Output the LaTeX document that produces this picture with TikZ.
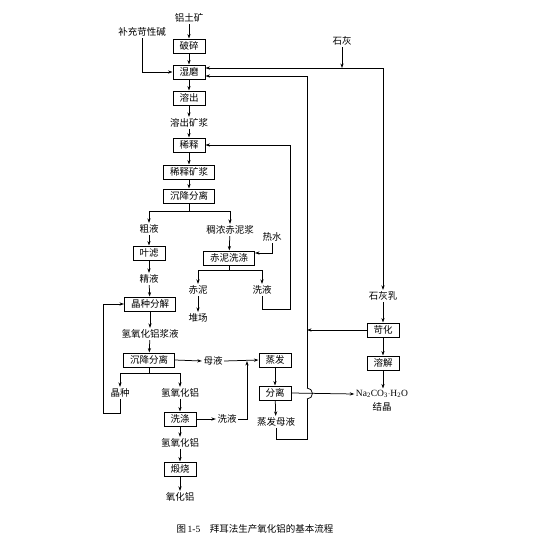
\documentclass[tikz,border=0pt]{standalone}
\usepackage{fontspec}
\setmainfont{Liberation Serif}
\newfontfamily\cjk{Noto Sans CJK SC}
\usetikzlibrary{arrows.meta}
\begin{document}
\begin{tikzpicture}[x=1pt,y=-1pt,
  every node/.style={font=\cjk\fontsize{9.5}{11}\selectfont, inner sep=1.5pt},
  box/.style={draw, line width=1pt, inner xsep=6.5pt, inner ysep=2pt, minimum height=14pt},
  lbl/.style={},
  link/.style={line width=0.75pt},
  arr/.style={link, -{Stealth[length=4.5pt,width=3.2pt]}}]
\useasboundingbox (0,0) rectangle (536,547);
% left main chain
\node[lbl] (ore) at (189,18) {铝土矿};
\node[lbl] (alkali) at (142,32) {补充苛性碱};
\node[box] (posui) at (189,46) {破碎};
\node[box] (shimo) at (189,72) {湿磨};
\node[box] (rongchu) at (189,98) {溶出};
\node[lbl] (rcks) at (189,123) {溶出矿浆};
\node[box] (xishi) at (189,145) {稀释};
\node[box] (xsks) at (189,172) {稀释矿浆};
\node[box] (cjfl1) at (189,196) {沉降分离};
\node[lbl] (cuye) at (149,229) {粗液};
\node[lbl] (chounong) at (230,230) {稠浓赤泥浆};
\node[box] (yelv) at (149,253) {叶滤};
\node[lbl] (reshui) at (272,237) {热水};
\node[box] (chixi) at (229,258) {赤泥洗涤};
\node[lbl] (jingye) at (149,279) {精液};
\node[lbl] (chini) at (198,290) {赤泥};
\node[lbl] (xiye1) at (262,290) {洗液};
\node[lbl] (duichang) at (198,318) {堆场};
\node[box] (jzfj) at (150,304) {晶种分解};
\node[lbl] (qyhljy) at (150,334) {氢氧化铝浆液};
\node[box] (cjfl2) at (149,360) {沉降分离};
\node[lbl] (muye) at (213,361) {母液};
\node[box] (zhengfa) at (275,360) {蒸发};
\node[box] (fenli) at (275,393) {分离};
\node[lbl] (jingzhong) at (120,393) {晶种};
\node[lbl] (qyhl1) at (180,393) {氢氧化铝};
\node[box] (xidi) at (180,419) {洗涤};
\node[lbl] (xiye2) at (227,419) {洗液};
\node[lbl] (zfmy) at (276,422) {蒸发母液};
\node[lbl] (qyhl2) at (180,443) {氢氧化铝};
\node[box] (duanshao) at (180,469) {煅烧};
\node[lbl] (yhl) at (180,497) {氧化铝};
% right chain
\node[lbl] (shihui) at (342,41) {石灰};
\node[lbl] (shhr) at (383,296) {石灰乳};
\node[box] (kehua) at (383,330) {苛化};
\node[box] (rongjie) at (383,363) {溶解};
\node[font=\rmfamily\fontsize{9.5}{11}\selectfont] (na) at (382,394) {Na\textsubscript{2}CO\textsubscript{3}$\cdot$H\textsubscript{2}O};
\node[lbl] (jiejing) at (382,407) {结晶};
\node[font=\cjk\fontsize{9.5}{11}\selectfont] (caption) at (255,529) {图\,{\rmfamily 1-5}\quad 拜耳法生产氧化铝的基本流程};
% coordinates
\coordinate (limeJ) at (383,68);
\coordinate (shimoA) at ([yshift=4pt]shimo.east);
\coordinate (shimoB) at ([yshift=-4pt]shimo.east);
\coordinate (retX) at (307,76);
\coordinate (retBot) at (307,439);
\coordinate (hopLo) at (307,399);
\coordinate (hopHi) at (307,388);
\coordinate (kehuaJ) at (307,330);
\coordinate (split1) at (189,211);
\coordinate (split1L) at (149,211);
\coordinate (split1R) at (230,211);
\coordinate (split2) at (229,270);
\coordinate (split2L) at (198,270);
\coordinate (split2R) at (262,270);
\coordinate (split3) at (149,373);
\coordinate (split3L) at (120,373);
\coordinate (split3R) at (180,373);
\coordinate (xsRet) at (290,309);
\coordinate (seedL) at (103,413);
\coordinate (washJ) at (247,361);
% main chain arrows
\draw[arr] (ore) -- (posui);
\draw[arr] (alkali.south) |- (shimo.west);
\draw[arr] (posui) -- (shimo);
\draw[arr] (shimo) -- (rongchu);
\draw[arr] (rongchu) -- (rcks);
\draw[arr] (rcks) -- (xishi);
\draw[arr] (xishi) -- (xsks);
\draw[arr] (xsks) -- (cjfl1);
% lime
\draw[arr] (shihui.south) -- (shihui.south |- limeJ);
\draw[arr] (limeJ) -- (shimoA);
\draw[arr] (limeJ) -- (shhr.north);
\draw[arr] (shhr) -- (kehua);
\draw[arr] (kehua) -- (rongjie);
\draw[arr] (rongjie) -- (na.north -| rongjie);
\draw[arr] (kehua.west) -- (kehuaJ);
% return to shimo with hop
\draw[link] (zfmy.south) |- (retBot) -- (hopLo);
\draw[link] (hopLo) arc[start angle=-90, end angle=90, radius=5.5pt];
\draw[arr] (hopHi) -- (retX) -- (shimoB);
\draw[arr] (fenli.east) -- (na.west);
% split 1
\draw[link] (cjfl1.south) -- (split1);
\draw[link] (split1L) -- (split1R);
\draw[arr] (split1L) -- (cuye.north);
\draw[arr] (split1R) -- (chounong.north);
\draw[arr] (cuye) -- (yelv);
\draw[arr] (yelv) -- (jingye);
\draw[arr] (jingye) -- (jzfj);
\draw[arr] (chounong) -- (chixi);
\draw[arr] (reshui.south) |- ([yshift=5pt]chixi.east);
% split 2
\draw[link] (chixi.south) -- (split2);
\draw[link] (split2L) -- (split2R);
\draw[arr] (split2L) -- (chini.north);
\draw[arr] (split2R) -- (xiye1.north);
\draw[arr] (chini) -- (duichang);
\draw[arr] (xiye1.south) |- (xsRet) |- (xishi.east);
% lower chain
\draw[arr] (jzfj) -- (qyhljy);
\draw[arr] (qyhljy) -- (cjfl2);
\draw[arr] (cjfl2.east) -- (muye.west);
\draw[arr] (muye.east) -- (zhengfa.west);
\draw[link] (cjfl2.south) -- (split3);
\draw[link] (split3L) -- (split3R);
\draw[arr] (split3L) -- (jingzhong.north);
\draw[arr] (split3R) -- (qyhl1.north);
\draw[arr] (jingzhong.south) |- (seedL) |- (jzfj.west);
\draw[arr] (qyhl1) -- (xidi);
\draw[arr] (xidi) -- (qyhl2);
\draw[arr] (qyhl2) -- (duanshao);
\draw[arr] (duanshao) -- (yhl);
\draw[arr] (xidi.east) -- (xiye2.west);
\draw[arr] (xiye2.east) -| (washJ);
\draw[arr] (zhengfa) -- (fenli);
\draw[arr] (fenli) -- (zfmy);
\end{tikzpicture}
\end{document}
